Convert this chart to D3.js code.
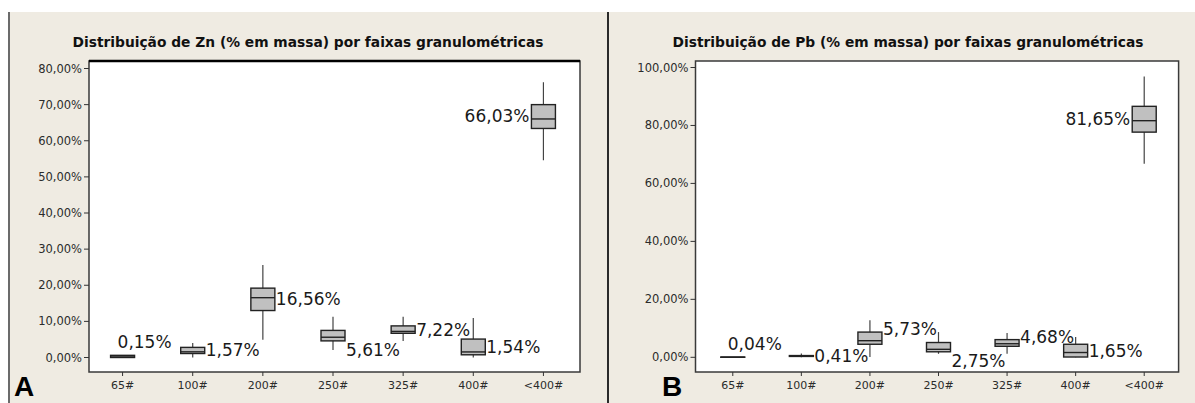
<!DOCTYPE html>
<html>
<head>
<meta charset="utf-8">
<script src="https://cdn.jsdelivr.net/npm/d3@7"></script>
<style>
  body { margin: 0; background: #fff; }
</style>
</head>
<body>
<script>
// faixas granulométricas
var categories = ['65#', '100#', '200#', '250#', '325#', '400#', '<400#'];

// Zn (% em massa): whisker low, Q1, median, Q3, whisker high
var znLow  = [0.0, 0.0, 4.9, 2.1, 4.6, 0.0, 54.6];
var znQ1   = [0.0, 1.1, 13.0, 4.6, 6.7, 0.75, 63.4];
var znMed  = [0.15, 1.57, 16.56, 5.61, 7.22, 1.54, 66.03];
var znQ3   = [0.6, 2.8, 19.2, 7.5, 8.75, 5.1, 70.0];
var znHigh = [0.6, 4.0, 25.6, 11.3, 11.3, 10.9, 76.2];
var znTicks = [0, 10, 20, 30, 40, 50, 60, 70, 80];

// Pb (% em massa)
var pbLow  = [0.0, 0.0, 0.1, 1.2, 1.2, 0.0, 66.8];
var pbQ1   = [0.0, 0.3, 4.5, 1.9, 3.8, 0.1, 77.7];
var pbMed  = [0.04, 0.41, 5.73, 2.75, 4.68, 1.65, 81.65];
var pbQ3   = [0.1, 0.6, 8.7, 5.1, 6.1, 4.5, 86.6];
var pbHigh = [0.1, 1.3, 12.8, 8.7, 8.4, 7.0, 96.9];
var pbTicks = [0, 20, 40, 60, 80, 100];

// where the median label sits: ur = above, r = right, rt = right/top, dr = right/below, l = left
var znLabelSide = ['ur', 'r', 'r', 'dr', 'r', 'r', 'l'];
var pbLabelSide = ['ur', 'r', 'rt', 'dr', 'rt', 'r', 'l'];

var W = 1195, H = 403;
var ptBR = d3.formatLocale({decimal: ',', thousands: '.', grouping: [3], currency: ['', '']});
var pct = ptBR.format('.2f');

var svg = d3.select('body').append('svg')
  .attr('width', W)
  .attr('height', H);

// beige background under the white strip
svg.append('rect')
  .attr('x', 9).attr('y', 12)
  .attr('width', W - 9).attr('height', H - 12)
  .attr('fill', '#efebe2');

svg.append('line')
  .attr('x1', 9).attr('x2', 9).attr('y1', 12).attr('y2', H)
  .attr('stroke', '#6b6b6b').attr('stroke-width', 2);

svg.append('line')
  .attr('x1', 608).attr('x2', 608).attr('y1', 12).attr('y2', H)
  .attr('stroke', '#2a2a2a').attr('stroke-width', 2);

function drawPanel(p) {
  var g = svg.append('g');

  var x = d3.scaleBand().domain(categories).range(p.band);
  var y = d3.scaleLinear().domain([0, p.top]).range([p.zeroY, p.topY]);
  var bw = 24;

  var rows = categories.map(function(c, i) {
    return {cat: c, low: p.low[i], q1: p.q1[i], med: p.med[i], q3: p.q3[i], high: p.high[i], side: p.side[i]};
  });

  g.append('text')
    .text(p.title)
    .attr('x', p.cx)
    .attr('y', 47)
    .attr('text-anchor', 'middle')
    .attr('font-family', 'DejaVu Sans')
    .attr('font-weight', 'bold')
    .attr('font-size', 14.5)
    .attr('textLength', 471)
    .attr('lengthAdjust', 'spacingAndGlyphs')
    .attr('fill', '#111');

  g.append('rect')
    .attr('x', p.frame[0]).attr('y', p.frame[1])
    .attr('width', p.frame[2] - p.frame[0])
    .attr('height', p.frame[3] - p.frame[1])
    .attr('fill', '#fff')
    .attr('stroke', '#3a3a3a')
    .attr('stroke-width', 1.5);

  if (p.heavyTop) {
    g.append('line')
      .attr('x1', p.frame[0]).attr('x2', p.frame[2])
      .attr('y1', p.frame[1]).attr('y2', p.frame[1])
      .attr('stroke', '#000').attr('stroke-width', 2.5);
  }

  // y ticks
  g.selectAll('.ytick').data(p.ticks).enter().append('line')
    .attr('x1', p.frame[0] - 5).attr('x2', p.frame[0])
    .attr('y1', function(d) { return y(d); })
    .attr('y2', function(d) { return y(d); })
    .attr('stroke', '#333');

  g.selectAll('.ylabel').data(p.ticks).enter().append('text')
    .text(function(d) { return pct(d) + '%'; })
    .attr('x', p.frame[0] - 7)
    .attr('y', function(d) { return y(d); })
    .attr('dy', '0.35em')
    .style('text-anchor', 'end')
    .attr('font-family', 'DejaVu Sans')
    .attr('font-size', 11.5)
    .attr('fill', '#2b2b2b');

  // x ticks
  g.selectAll('.xtick').data(categories).enter().append('line')
    .attr('x1', function(d) { return x(d) + x.bandwidth() / 2; })
    .attr('x2', function(d) { return x(d) + x.bandwidth() / 2; })
    .attr('y1', p.frame[3]).attr('y2', p.frame[3] + 4)
    .attr('stroke', '#333');

  g.selectAll('.xlabel').data(categories).enter().append('text')
    .text(function(d) { return d; })
    .attr('x', function(d) { return x(d) + x.bandwidth() / 2; })
    .attr('y', p.frame[3] + 13)
    .attr('dy', '0.35em')
    .style('text-anchor', 'middle')
    .attr('font-family', 'DejaVu Sans')
    .attr('font-size', 11)
    .attr('fill', '#2b2b2b');

  // whiskers
  g.selectAll('.whisker').data(rows).enter().append('line')
    .attr('x1', function(d) { return x(d.cat) + x.bandwidth() / 2; })
    .attr('x2', function(d) { return x(d.cat) + x.bandwidth() / 2; })
    .attr('y1', function(d) { return y(d.low); })
    .attr('y2', function(d) { return y(d.high); })
    .attr('stroke', '#444')
    .attr('stroke-width', 1.2);

  // boxes
  g.selectAll('.box').data(rows).enter().append('rect')
    .attr('x', function(d) { return x(d.cat) + x.bandwidth() / 2 - bw / 2; })
    .attr('y', function(d) { return y(d.q3); })
    .attr('width', bw)
    .attr('height', function(d) { return y(d.q1) - y(d.q3); })
    .attr('fill', '#c0c0c0')
    .attr('stroke', '#222')
    .attr('stroke-width', 1.4);

  g.selectAll('.median').data(rows).enter().append('line')
    .attr('x1', function(d) { return x(d.cat) + x.bandwidth() / 2 - bw / 2; })
    .attr('x2', function(d) { return x(d.cat) + x.bandwidth() / 2 + bw / 2; })
    .attr('y1', function(d) { return y(d.med); })
    .attr('y2', function(d) { return y(d.med); })
    .attr('stroke', '#222')
    .attr('stroke-width', 1.4);

  // median labels
  g.selectAll('.vlabel').data(rows).enter().append('text')
    .text(function(d) { return pct(d.med) + '%'; })
    .attr('x', function(d) {
      var c = x(d.cat) + x.bandwidth() / 2;
      if (d.side == 'ur') return c - 5;
      if (d.side == 'l') return c - bw / 2 - 2;
      return c + bw / 2 + 1;
    })
    .attr('y', function(d) {
      if (d.side == 'ur') return y(d.q3) - 13;
      if (d.side == 'rt') return y(d.q3) - 3;
      if (d.side == 'dr') return y(d.q1) + 9;
      return (y(d.q1) + y(d.q3)) / 2;
    })
    .attr('dy', '0.35em')
    .style('text-anchor', function(d) { return d.side == 'l' ? 'end' : 'start'; })
    .attr('font-family', 'DejaVu Sans')
    .attr('font-size', 17)
    .attr('fill', '#1a1a1a');

  g.append('text')
    .text(p.letter)
    .attr('x', p.letterX)
    .attr('y', 396)
    .attr('font-family', 'Liberation Sans')
    .attr('font-weight', 'bold')
    .attr('font-size', 28)
    .attr('fill', '#000');
}

drawPanel({
  title: 'Distribuição de Zn (% em massa) por faixas granulométricas',
  cx: 308, letter: 'A', letterX: 14,
  frame: [89, 61, 580, 372], band: [87.5, 578.5],
  top: 80, zeroY: 357.5, topY: 68.5, ticks: znTicks, heavyTop: true,
  low: znLow, q1: znQ1, med: znMed, q3: znQ3, high: znHigh, side: znLabelSide
});

drawPanel({
  title: 'Distribuição de Pb (% em massa) por faixas granulométricas',
  cx: 908, letter: 'B', letterX: 662,
  frame: [695.5, 61, 1178.6, 372], band: [698.5, 1178.5],
  top: 100, zeroY: 357.3, topY: 67.5, ticks: pbTicks, heavyTop: false,
  low: pbLow, q1: pbQ1, med: pbMed, q3: pbQ3, high: pbHigh, side: pbLabelSide
});
</script>
</body>
</html>
